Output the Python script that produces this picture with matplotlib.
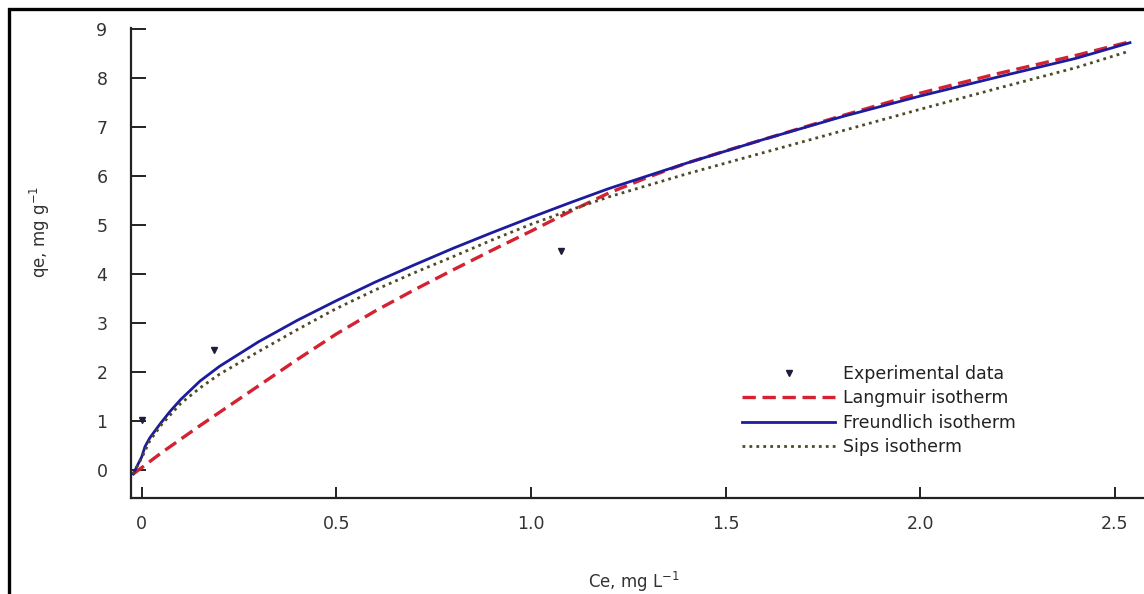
import matplotlib
matplotlib.use("Agg")
import matplotlib.pyplot as plt
from matplotlib.patches import Rectangle

plt.rcParams['font.family'] = ['DejaVu Sans']
plt.rcParams['mathtext.default'] = 'regular'

# Experimental data
exp_x = [0.0, 0.187, 1.076]
exp_y = [1.02, 2.45, 4.47]

# Langmuir isotherm
lang_x = [-0.022, 0.0, 0.05, 0.1, 0.15, 0.2, 0.25, 0.3, 0.35, 0.4, 0.45, 0.5, 0.6, 0.7, 0.8,
          0.9, 1.0, 1.1, 1.2, 1.3, 1.4, 1.5, 1.6, 1.8, 2.0, 2.2, 2.4, 2.539]
lang_y = [-0.08, 0.05, 0.35, 0.63, 0.91, 1.18, 1.45, 1.72, 1.99, 2.26, 2.52, 2.78, 3.25, 3.68, 4.09,
          4.49, 4.88, 5.28, 5.66, 5.98, 6.27, 6.52, 6.76, 7.24, 7.70, 8.10, 8.47, 8.75]

# Freundlich isotherm
freu_x = [-0.022, 0.0, 0.0085, 0.021, 0.047, 0.073, 0.1, 0.15, 0.2, 0.3, 0.4, 0.5, 0.6, 0.7,
          0.8, 0.9, 1.0, 1.1, 1.2, 1.4, 1.6, 1.8, 2.0, 2.2, 2.4, 2.539]
freu_y = [-0.08, 0.27, 0.48, 0.66, 0.94, 1.20, 1.44, 1.82, 2.12, 2.62, 3.06, 3.46, 3.84, 4.19,
          4.53, 4.85, 5.16, 5.46, 5.75, 6.27, 6.76, 7.22, 7.64, 8.03, 8.41, 8.73]

# Sips isotherm
sips_x = [-0.022, 0.0, 0.021, 0.05, 0.1, 0.15, 0.2, 0.3, 0.4, 0.5, 0.6, 0.7, 0.8, 0.9, 1.0,
          1.1, 1.2, 1.4, 1.6, 1.8, 2.0, 2.2, 2.4, 2.53]
sips_y = [-0.08, 0.25, 0.60, 0.92, 1.36, 1.68, 1.96, 2.42, 2.87, 3.30, 3.68, 4.03, 4.36, 4.70, 5.02,
          5.31, 5.58, 6.05, 6.49, 6.93, 7.37, 7.80, 8.22, 8.54]

x_ticks = [0, 0.5, 1.0, 1.5, 2.0, 2.5]
x_tick_labels = ['0', '0.5', '1.0', '1.5', '2.0', '2.5']
y_ticks = [0, 1, 2, 3, 4, 5, 6, 7, 8, 9]

W, H = 1144, 594
fig = plt.figure(figsize=(W / 100, H / 100), dpi=100)
ax_w = 1 - 131 / W
ax = fig.add_axes([131 / W, 1 - 498 / H, ax_w, (498 - 28) / H])

ax.plot(lang_x, lang_y, color='#d42232', lw=2.4, ls=(0, (4, 2)), label='Langmuir isotherm', zorder=3)
ax.plot(freu_x, freu_y, color='#1c1c9c', lw=2.0, ls='-', label='Freundlich isotherm', zorder=4)
ax.plot(sips_x, sips_y, color='#4f4a26', lw=2.0, ls=(0, (1, 1.5)), label='Sips isotherm', zorder=5)
ax.plot(exp_x, exp_y, ls='none', marker='v', ms=4.5, color='#1e1e3c', label='Experimental data', zorder=6)

ax.set_xlim(-0.0275, 2.575)
ax.set_ylim(-0.57, 9.03)
ax.set_xticks(x_ticks)
ax.set_xticklabels(x_tick_labels)
ax.set_yticks(y_ticks)

for s in ['top', 'right']:
    ax.spines[s].set_visible(False)
for s in ['left', 'bottom']:
    ax.spines[s].set_linewidth(1.6)
    ax.spines[s].set_color('#222222')

ax.tick_params(axis='y', direction='in', length=11, width=1.4, pad=17, labelsize=12.5, colors='#222222', labelcolor='#333333')
ax.tick_params(axis='x', direction='in', length=8, width=1.4, pad=12, labelsize=12.5, colors='#222222', labelcolor='#333333')

ax.set_xlabel('Ce, mg L$^{-1}$', fontsize=12, color='#333333')
ax.set_ylabel('qe, mg g$^{-1}$', fontsize=12, color='#333333')
ax.xaxis.set_label_coords(0.497, -(570 - 498) / 470)
ax.xaxis.label.set_va('top')
ax.yaxis.set_label_coords(-(131 - 40) / (ax_w * W), (498 - 232) / 470)
ax.yaxis.label.set_va('center')

handles, labels = ax.get_legend_handles_labels()
order = [3, 0, 1, 2]
leg = ax.legend([handles[i] for i in order], [labels[i] for i in order],
                loc='upper left', bbox_to_anchor=(733 / W, 1 - 356 / H),
                bbox_transform=fig.transFigure, frameon=False, borderpad=0,
                handlelength=5.4, handletextpad=0.45, labelspacing=0.38,
                numpoints=1, prop={'family': 'DejaVu Sans', 'size': 12.5})
for t in leg.get_texts():
    t.set_color('#222222')

# outer border
fig.patches.append(Rectangle((8.5 / W, -0.5), 2.0, 1.5 - 8.5 / H, transform=fig.transFigure,
                             fill=False, edgecolor='black', lw=2.4, zorder=10))

fig.savefig('out.png', dpi=100)
